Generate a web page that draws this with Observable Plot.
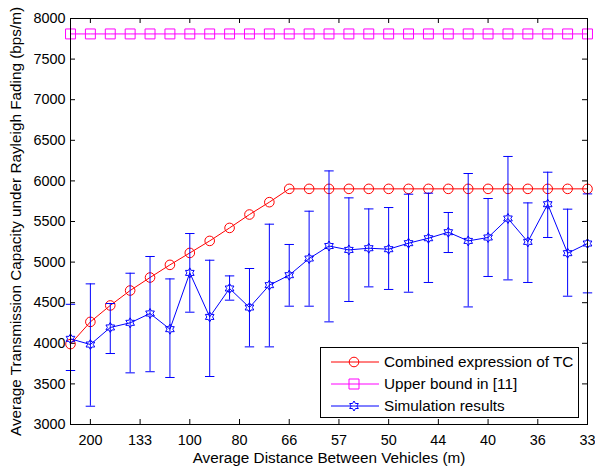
<!DOCTYPE html>
<html><head><meta charset="utf-8">
<script src="https://cdn.jsdelivr.net/npm/d3@7"></script>
<script src="https://cdn.jsdelivr.net/npm/@observablehq/plot@0.6"></script>
<style>
body{margin:0;background:#fff;}
#wrap{position:relative;width:595px;height:472px;font-family:"Liberation Sans",Arial,sans-serif;}
#legend{position:absolute;left:320px;top:347px;width:259px;height:71px;border:1px solid #000;background:#fff;box-sizing:border-box;}
.row{position:absolute;left:0;height:20px;display:flex;align-items:center;font-size:15.3px;color:#000;white-space:nowrap;}
.row svg{display:block;}
</style>
</head><body><div id="wrap"></div>
<script>
// vehicle density (vehicles/km) at each simulated point
const density = [4,5,6,7,8,9,10,11,12,13,14,15,16,17,18,19,20,21,22,23,24,25,26,27,28,29,30];
const combinedTC = [3990,4264,4466,4650,4810,4966,5113,5261,5421,5586,5738,5902,5902,5902,5902,5902,5902,5902,5902,5902,5902,5902,5902,5902,5902,5902,5902];
const upperBound = [7810,7810,7810,7810,7810,7810,7810,7810,7810,7810,7810,7810,7810,7810,7810,7810,7810,7810,7810,7810,7810,7810,7810,7810,7810,7810,7810];
const simMean = [4055,3985,4195,4252,4367,4174,4867,4325,4675,4441,4716,4839,5044,5198,5150,5171,5159,5233,5294,5368,5261,5303,5537,5249,5713,5110,5229];
const simHigh = [4480,4732,4490,4863,5069,4793,5352,5023,4830,4921,5467,5217,5627,6123,5791,5655,5672,5836,5849,5611,6091,5783,6301,5729,6107,5652,5840];
const simLow  = [3665,3225,3874,3636,3650,3579,4383,3591,4531,3956,3956,4457,4457,4264,4515,4695,4663,4629,4749,5118,4448,4823,4781,4749,5303,4580,4621];
const xTickValues = [5,7.5,10,12.5,15,17.5,20,22.5,25,27.5,30];
const xTickLabels = ["200","133","100","80","66","57","50","44","40","36","33"];
const yTickValues = [3000,3500,4000,4500,5000,5500,6000,6500,7000,7500,8000];
const seriesNames = ["Combined expression of TC","Upper bound in [11]","Simulation results"];
const seriesColors = ["#ff0000","#ff00ff","#0000ff"];
const xLabel = "Average Distance Between Vehicles (m)";
const yLabel = "Average Transmission Capacity under Rayleigh Fading (bps/m)";

const W = 595, H = 472, mL = 70, mR = 8, mT = 18, mB = 48;
const plotW = W - mL - mR, plotH = H - mT - mB;

const hexagram = { draw(ctx, size) {
  const R = Math.sqrt(size / Math.PI), r = R / Math.sqrt(3);
  for (let i = 0; i < 12; i++) {
    const a = i * Math.PI / 6 - Math.PI / 2, rr = i % 2 ? r : R;
    const x = rr * Math.cos(a), y = rr * Math.sin(a);
    if (i) ctx.lineTo(x, y); else ctx.moveTo(x, y);
  }
  ctx.closePath();
}};
const hcap = { draw(ctx, size) {
  const w = Math.sqrt(size / Math.PI);
  ctx.moveTo(-w, 0); ctx.lineTo(w, 0);
}};

const rows = density.map((d, i) => ({d, tc: combinedTC[i], ub: upperBound[i], m: simMean[i], lo: simLow[i], hi: simHigh[i]}));

const chart = Plot.plot({
  width: W, height: H,
  marginLeft: mL, marginRight: mR, marginTop: mT, marginBottom: mB,
  style: {background: "white", fontSize: "14px", fontFamily: "'Liberation Sans', Arial, sans-serif", color: "black", overflow: "visible"},
  x: {domain: [4, 30]},
  y: {domain: [3000, 8000]},
  marks: [
    Plot.axisX({ticks: xTickValues, tickFormat: (d) => xTickLabels[xTickValues.indexOf(d)], tickSize: 0, tickPadding: 10, label: null, fontSize: 14.4}),
    Plot.axisY({ticks: yTickValues, tickFormat: (d) => String(d), tickSize: 0, tickPadding: 5, label: null, fontSize: 14.4}),
    Plot.tickX(xTickValues, {x: d => d, insetTop: plotH - 5, stroke: "black"}),
    Plot.tickX(xTickValues, {x: d => d, insetBottom: plotH - 5, stroke: "black"}),
    Plot.tickY(yTickValues, {y: d => d, insetRight: plotW - 5, stroke: "black"}),
    Plot.tickY(yTickValues, {y: d => d, insetLeft: plotW - 5, stroke: "black"}),
    // Combined expression
    Plot.line(rows, {x: "d", y: "tc", stroke: seriesColors[0], strokeWidth: 1}),
    Plot.dot(rows, {x: "d", y: "tc", r: 4.8, symbol: "circle", stroke: seriesColors[0], fill: "none", strokeWidth: 1}),
    // Upper bound
    Plot.line(rows, {x: "d", y: "ub", stroke: seriesColors[1], strokeWidth: 1}),
    Plot.dot(rows, {x: "d", y: "ub", r: 5.6, symbol: "square", stroke: seriesColors[1], fill: "none", strokeWidth: 1}),
    // Simulation with error bars
    Plot.ruleX(rows, {x: "d", y1: "lo", y2: "hi", stroke: seriesColors[2], strokeWidth: 1}),
    Plot.dot(rows, {x: "d", y: "lo", r: 4.7, symbol: hcap, stroke: seriesColors[2], fill: "none", strokeWidth: 1}),
    Plot.dot(rows, {x: "d", y: "hi", r: 4.7, symbol: hcap, stroke: seriesColors[2], fill: "none", strokeWidth: 1}),
    Plot.line(rows, {x: "d", y: "m", stroke: seriesColors[2], strokeWidth: 1}),
    Plot.dot(rows, {x: "d", y: "m", r: 5, symbol: hexagram, stroke: seriesColors[2], fill: "none", strokeWidth: 1}),
    Plot.frame({stroke: "black", strokeWidth: 1}),
    Plot.text([xLabel], {text: d => d, frameAnchor: "bottom", textAnchor: "middle", dy: 38, fontSize: 15.3, fill: "black"}),
    Plot.text([yLabel], {text: d => d, frameAnchor: "left", textAnchor: "middle", rotate: -90, dx: -54, fontSize: 15.3, fill: "black"})
  ]
});

const wrap = document.getElementById("wrap");
wrap.appendChild(chart);

// Legend
const legend = document.createElement("div");
legend.id = "legend";
const rowTops = [4, 26, 48];
const ns = "http://www.w3.org/2000/svg";
seriesNames.forEach((name, i) => {
  const row = document.createElement("div");
  row.className = "row";
  row.style.top = rowTops[i] + "px";
  const svg = document.createElementNS(ns, "svg");
  svg.setAttribute("width", 62); svg.setAttribute("height", 20);
  const ln = document.createElementNS(ns, "line");
  ln.setAttribute("x1", 10); ln.setAttribute("x2", 58); ln.setAttribute("y1", 10); ln.setAttribute("y2", 10);
  ln.setAttribute("stroke", seriesColors[i]); ln.setAttribute("stroke-width", 1);
  svg.appendChild(ln);
  const path = document.createElementNS(ns, "path");
  const p = d3.path();
  if (i === 0) { p.arc(0, 0, 4.8, 0, 2 * Math.PI); }
  else if (i === 1) { p.rect(-5, -5, 10, 10); }
  else { hexagram.draw(p, Math.PI * 25); }
  path.setAttribute("d", p.toString());
  path.setAttribute("transform", "translate(33,10)");
  path.setAttribute("fill", "none"); path.setAttribute("stroke", seriesColors[i]);
  svg.appendChild(path);
  row.appendChild(svg);
  const t = document.createElement("span");
  t.textContent = name;
  t.style.marginLeft = "1px";
  row.appendChild(t);
  legend.appendChild(row);
});
wrap.appendChild(legend);
</script>
</body></html>
